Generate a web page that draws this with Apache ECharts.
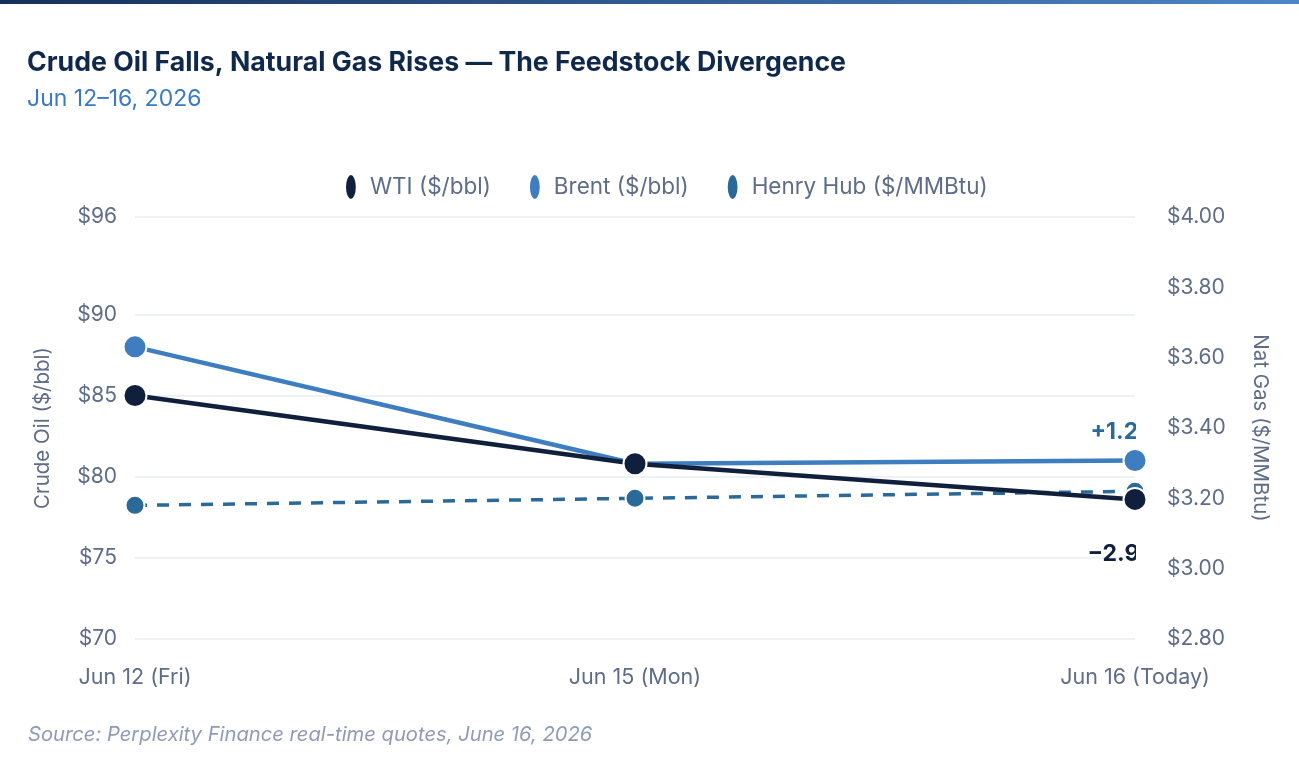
<!DOCTYPE html>
<html>
<head>
<meta charset="utf-8">
<script src="https://cdn.jsdelivr.net/npm/echarts@6/dist/echarts.min.js"></script>
<style>
  html, body { margin: 0; padding: 0; background: #fff; }
  #topbar { height: 4px; background: linear-gradient(90deg, #16305a, #4d86c6); }
  #chart { width: 1299px; height: 753px; }
</style>
</head>
<body>
<div id="topbar"></div>
<div id="chart"></div>
<script>
// 数据
var days = ['Jun 12 (Fri)', 'Jun 15 (Mon)', 'Jun 16 (Today)'];
var wti = [85.0, 80.8, 78.6];
var brent = [88.0, 80.8, 81.0];
var henryHub = [3.18, 3.20, 3.22];
var wtiChange = '\u22122.9';
var brentChange = '+1.2';
var oilTicks = [70, 75, 80, 85, 90, 96];

var axisColor = '#5d6d87';
var font = 'Inter, "Noto Sans", sans-serif';
var ellipse = 'path://M5,0 A5,11 0 1 1 5,22 A5,11 0 1 1 5,0 Z';

function lastLabel(arr, text, color, pos) {
    return arr.map(function (v, i) {
        if (i !== arr.length - 1) return v;
        return {
            value: v,
            label: {
                show: true,
                formatter: text,
                position: pos,
                color: color,
                fontSize: 23,
                fontWeight: 'bold',
                fontFamily: font
            }
        };
    });
}

var myChart = echarts.init(document.getElementById('chart'));
var option = {
    backgroundColor: '#fff',
    textStyle: { fontFamily: font },
    title: [
        {
            text: 'Crude Oil Falls, Natural Gas Rises \u2014 The Feedstock Divergence',
            left: 22, top: 40,
            textStyle: { color: '#10284a', fontSize: 26.7, fontWeight: 'bold', fontFamily: font }
        },
        {
            text: 'Jun 12\u201316, 2026',
            left: 22, top: 79,
            textStyle: { color: '#3a7bbf', fontSize: 23, fontWeight: 'normal', fontFamily: font }
        },
        {
            text: 'Source: Perplexity Finance real-time quotes, June 16, 2026',
            left: 23, top: 716,
            textStyle: { color: '#8d9cb6', fontSize: 20.2, fontStyle: 'italic', fontWeight: 'normal', fontFamily: font }
        }
    ],
    legend: {
        top: 164,
        left: 339,
        itemWidth: 12,
        itemHeight: 26,
        itemGap: 37,
        icon: ellipse,
        textStyle: { color: axisColor, fontSize: 22.5, fontFamily: font, padding: [0, 0, 0, 8] },
        data: ['WTI ($/bbl)', 'Brent ($/bbl)', 'Henry Hub ($/MMBtu)']
    },
    grid: { left: 135, right: 164, top: 213, bottom: 118, containLabel: false },
    xAxis: {
        type: 'category',
        boundaryGap: false,
        data: days,
        axisLine: { show: false },
        axisTick: { show: false },
        axisLabel: { color: axisColor, fontSize: 21.5, margin: 28 },
        splitLine: { show: false }
    },
    yAxis: [
        {
            type: 'value',
            min: 70, max: 96,
            name: 'Crude Oil ($/bbl)',
            nameLocation: 'middle',
            nameGap: 82,
            nameTextStyle: { color: axisColor, fontSize: 20.5 },
            axisLine: { show: false },
            axisTick: { show: false, customValues: oilTicks },
            axisLabel: {
                color: axisColor, fontSize: 21, margin: 18,
                customValues: oilTicks,
                formatter: function (v) { return '$' + v; }
            },
            splitLine: { show: true, lineStyle: { color: '#e8edf3', width: 1.5 } }
        },
        {
            type: 'value',
            min: 2.8, max: 4.0, interval: 0.2,
            name: 'Nat Gas ($/MMBtu)',
            nameLocation: 'middle',
            nameGap: 115,
            nameRotate: -90,
            nameTextStyle: { color: axisColor, fontSize: 20.5 },
            axisLine: { show: false },
            axisTick: { show: false },
            axisLabel: {
                color: axisColor, fontSize: 21, margin: 32,
                formatter: function (v) { return '$' + v.toFixed(2); }
            },
            splitLine: { show: false }
        }
    ],
    series: [
        {
            name: 'Henry Hub ($/MMBtu)',
            type: 'line',
            yAxisIndex: 1,
            z: 1,
            data: henryHub,
            color: '#2b6a98',
            symbol: 'circle',
            symbolSize: 19,
            lineStyle: { width: 3.5, type: [12, 10], color: '#2b6a98' },
            itemStyle: { color: '#2b6a98', borderColor: '#fff', borderWidth: 2 }
        },
        {
            name: 'Brent ($/bbl)',
            type: 'line',
            z: 2,
            data: lastLabel(brent, brentChange, '#2b6a98', [-32, -27]),
            color: '#3d7dc0',
            symbol: 'circle',
            symbolSize: 23,
            lineStyle: { width: 4.5, color: '#3d7dc0' },
            itemStyle: { color: '#3d7dc0', borderColor: '#fff', borderWidth: 2 }
        },
        {
            name: 'WTI ($/bbl)',
            type: 'line',
            z: 3,
            data: lastLabel(wti, wtiChange, '#0f1f3c', [-35, 56]),
            color: '#0f1f3c',
            symbol: 'circle',
            symbolSize: 23,
            lineStyle: { width: 4.5, color: '#0f1f3c' },
            itemStyle: { color: '#0f1f3c', borderColor: '#fff', borderWidth: 2 }
        }
    ],
    // 模拟标签被绘图区裁剪
    graphic: [
        { type: 'rect', left: 1136, top: 418, z: 100, silent: true, shape: { width: 22, height: 26 }, style: { fill: '#fff' } },
        { type: 'rect', left: 1136, top: 540, z: 100, silent: true, shape: { width: 22, height: 26 }, style: { fill: '#fff' } }
    ]
};
myChart.setOption(option);
window.onresize = myChart.resize;
</script>
</body>
</html>
